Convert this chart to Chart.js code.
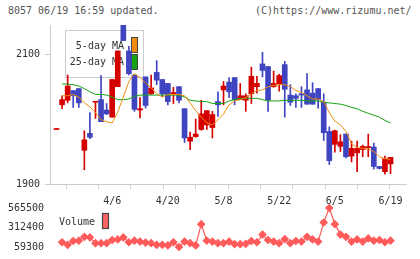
<!DOCTYPE html>
<html>
<head>
<meta charset="utf-8">
<script src="https://cdn.jsdelivr.net/npm/chart.js@4.4.1/dist/chart.umd.min.js"></script>
<style>
  body { margin: 0; background: #fff; }
  #wrap { position: relative; width: 420px; height: 259px; overflow: hidden; }
  canvas { position: absolute; left: 0; }
  .hdr { position: absolute; top: 5px; font: 10px "DejaVu Sans Mono", monospace; color: #555; white-space: nowrap; }
</style>
</head>
<body>
<div id="wrap">
  <div class="hdr" style="left:8px">8057 06/19 16:59 updated.</div>
  <div class="hdr" style="left:255px">(C)https://www.rizumu.net/</div>
  <canvas id="price-chart" width="420" height="200" style="top:0"></canvas>
  <canvas id="volume-chart" width="420" height="69" style="top:190px"></canvas>
</div>
<script>
// daily candles, index 1..61
const openP  = [1984,2022,2029,2044,2047,1952,1978,2026,2030,2014,2003,2050,2145,2105,2068,2014,2065,2039,2072,2061,2055,2039,2050,2016,1966,1973,1984,1991,1987,2027,2045,2057,2064,2030,2029,2039,2050,2085,2081,2050,2054,2084,2037,2036,2039,2045,2040,2047,2026,1981,1961,1958,1977,1943,1948,1953,1956,1957,1927,1919,1931];
const highP  = [1984,2036,2068,2044,2047,1982,2010,2027,2067,2024,2061,2105,2145,2112,2068,2033,2065,2068,2090,2061,2055,2049,2050,2016,1980,2000,2029,2013,2012,2042,2058,2064,2064,2055,2039,2080,2066,2103,2081,2074,2069,2089,2053,2039,2050,2070,2056,2047,2039,1988,1983,1976,1977,1966,1966,1960,1977,1963,1927,1943,1941];
const lowP   = [1984,2016,2025,2018,2018,1922,1970,2001,1996,2007,2003,2050,2121,2068,2012,2002,2017,2038,2053,2035,2022,2024,2025,1964,1953,1972,1983,1984,1971,2004,2022,2033,2022,2030,2012,2024,2040,2065,2012,2049,2043,2003,2021,2018,2018,2023,2023,2017,1967,1930,1949,1950,1940,1934,1919,1942,1942,1923,1923,1915,1916];
const closeP = [1984,2030,2051,2036,2025,1968,1972,2027,1996,2008,2061,2105,2121,2070,2015,2016,2021,2048,2060,2039,2027,2041,2029,1971,1972,1977,2008,2013,2007,2022,2051,2042,2030,2036,2036,2066,2055,2075,2029,2055,2067,2046,2026,2032,2037,2023,2023,2030,1979,1936,1982,1965,1942,1955,1955,1958,1957,1927,1924,1939,1941];
const ma5  = [null,2036,2036,2038,2034,2025,2019,2010,1999,1996,1994,2011,2034,2058,2070,2064,2056,2048,2039,2034,2038,2038,2038,2036,2025,2013,2003,1994,1991,1999,2008,2022,2028,2030,2033,2039,2044,2045,2050,2052,2053,2053,2050,2044,2041,2036,2031,2031,2027,2010,1997,1991,1981,1962,1956,1955,1954,1950,1942,1939,1938];
const ma25 = [null,2054,2054,2053,2051,2047,2042,2038,2038,2037,2034,2030,2030,2031,2035,2037,2037,2037,2037,2037,2037,2037,2037,2034,2029,2028,2027,2027,2024,2024,2024,2028,2030,2032,2032,2032,2032,2030,2028,2028,2028,2029,2029,2029,2029,2028,2028,2028,2026,2025,2024,2023,2021,2018,2016,2012,2009,2006,2003,1998,1994];
const volume = [null,121000,88000,137000,142000,191000,183000,109000,109000,109000,150000,158000,183000,121000,142000,130000,117000,109000,88000,88000,80000,121000,59300,130000,109000,80000,356000,142000,130000,109000,109000,130000,96000,96000,100000,137000,121000,220000,150000,130000,109000,162000,109000,137000,130000,191000,158000,130000,377000,565500,356000,220000,191000,130000,158000,130000,170000,142000,150000,121000,142000];

const dateLabels = ['4/6','4/20','5/8','5/22','6/5','6/19'];
const dateIdx = [11,21,31,41,51,61];
const priceTicks = [1900,2100];
const volTicks = [59300,312400,565500];

const RED = '#d40000';
const BLUE = '#3f45c0';
const FONT = { family: 'DejaVu Sans Mono', size: 10 };
const X_MIN = -0.17, X_MAX = 63.78;

const candleColor = closeP.map((c, i) => c >= openP[i] ? RED : BLUE);
const xy = (arr) => arr.map((v, i) => ({ x: i + 1, y: v }));

const maLegend = {
    id: 'maLegend',
    beforeDatasetsDraw(chart) {
        const ctx = chart.ctx;
        ctx.save();
        ctx.fillStyle = '#fff';
        ctx.fillRect(65.5, 30.5, 78, 47);
        ctx.strokeStyle = '#ccc';
        ctx.lineWidth = 1;
        ctx.strokeRect(65.5, 30.5, 78, 47);
        ctx.font = '10px "DejaVu Sans Mono"';
        ctx.fillStyle = '#333';
        ctx.textAlign = 'right';
        ctx.textBaseline = 'middle';
        ctx.fillText('5-day MA', 124, 46);
        ctx.fillText('25-day MA', 124, 62);
        ctx.strokeStyle = '#444';
        ctx.fillStyle = '#f08c10';
        ctx.fillRect(131.5, 37.5, 6, 15);
        ctx.strokeRect(131.5, 37.5, 6, 15);
        ctx.fillStyle = '#13a313';
        ctx.fillRect(131.5, 54.5, 6, 15);
        ctx.strokeRect(131.5, 54.5, 6, 15);
        ctx.restore();
    }
};

const volLegend = {
    id: 'volLegend',
    afterDraw(chart) {
        const ctx = chart.ctx;
        ctx.save();
        ctx.font = '10px "DejaVu Sans Mono"';
        ctx.fillStyle = '#333';
        ctx.textAlign = 'left';
        ctx.textBaseline = 'middle';
        ctx.fillText('Volume', 59, 32);
        ctx.fillStyle = '#ff6262';
        ctx.strokeStyle = '#444';
        ctx.fillRect(102.5, 23.5, 6, 15);
        ctx.strokeRect(102.5, 23.5, 6, 15);
        ctx.restore();
    }
};

new Chart(document.getElementById('price-chart'), {
    type: 'bar',
    data: {
        datasets: [
            {
                type: 'line', label: '5-day MA', data: xy(ma5),
                borderColor: '#f08c10', borderWidth: 1, pointRadius: 0, order: 1
            },
            {
                type: 'line', label: '25-day MA', data: xy(ma25),
                borderColor: '#13a313', borderWidth: 1, pointRadius: 0, order: 1
            },
            {
                label: 'body', data: openP.map((o, i) => ({ x: i + 1, y: [o, closeP[i]] })),
                backgroundColor: candleColor, barThickness: 5, minBarLength: 1, grouped: false, order: 2
            },
            {
                label: 'wick', data: lowP.map((l, i) => ({ x: i + 1, y: [l, highP[i]] })),
                backgroundColor: candleColor, barThickness: 1, minBarLength: 1, grouped: false, order: 3
            }
        ]
    },
    options: {
        responsive: false,
        animation: false,
        devicePixelRatio: 1,
        layout: { padding: { top: 25, right: 14, left: 0, bottom: 0 } },
        plugins: { legend: { display: false }, tooltip: { enabled: false } },
        scales: {
            x: { type: 'linear', display: false, min: X_MIN, max: X_MAX, offset: false },
            xt: {
                type: 'linear', position: 'bottom', min: 0, max: 11, offset: false,
                ticks: { stepSize: 1, display: false },
                grid: { drawOnChartArea: false, tickLength: 5, color: '#ccc' },
                border: { color: '#ccc' },
                afterFit: s => { s.height = 16; }
            },
            y: {
                min: 1900, max: 2145,
                afterBuildTicks: s => { s.ticks = priceTicks.map(v => ({ value: v })); },
                ticks: { font: FONT, color: '#333', padding: 5, callback: v => String(v) },
                grid: { drawOnChartArea: false, tickLength: 5, color: '#ccc' },
                border: { color: '#ccc' },
                afterFit: s => { s.width = 50; }
            }
        }
    },
    plugins: [maLegend]
});

new Chart(document.getElementById('volume-chart'), {
    type: 'line',
    data: {
        datasets: [{
            label: 'Volume', data: xy(volume),
            borderColor: '#ff5b5b', backgroundColor: '#ff5b5b', borderWidth: 1.2,
            pointStyle: 'rectRot', pointRadius: 3.5, clip: false
        }]
    },
    options: {
        responsive: false,
        animation: false,
        devicePixelRatio: 1,
        layout: { padding: { top: 0, right: 14, left: 0, bottom: 10 } },
        plugins: { legend: { display: false }, tooltip: { enabled: false } },
        scales: {
            x: {
                type: 'linear', position: 'top', min: X_MIN, max: X_MAX,
                afterBuildTicks: s => { s.ticks = dateIdx.map(v => ({ value: v })); },
                ticks: { font: FONT, color: '#333', padding: 1, maxRotation: 0, autoSkip: false,
                         callback: v => dateLabels[dateIdx.indexOf(v)] },
                grid: { display: false, drawTicks: false },
                border: { display: false },
                afterFit: s => { s.height = 18; }
            },
            y: {
                min: 59300, max: 565500,
                afterBuildTicks: s => { s.ticks = volTicks.map(v => ({ value: v })); },
                ticks: { font: FONT, color: '#333', padding: 6, callback: v => String(v) },
                grid: { display: false, drawTicks: false },
                border: { display: false },
                afterFit: s => { s.width = 50; }
            }
        }
    },
    plugins: [volLegend]
});
</script>
</body>
</html>
